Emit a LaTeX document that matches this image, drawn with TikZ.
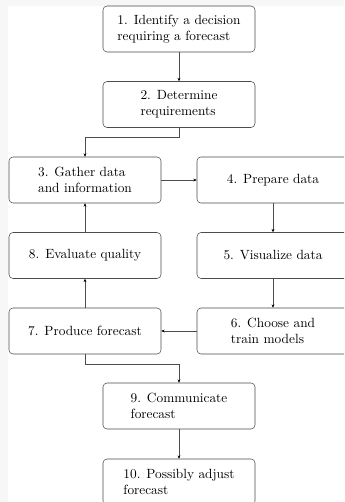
\documentclass[tikz,border=0pt]{standalone}
\usetikzlibrary{arrows.meta}
\begin{document}
\begin{tikzpicture}[x=0.75pt,y=-0.75pt,
  box/.style={draw=black!70, rounded corners=3pt, minimum width=114pt, minimum height=34.5pt, align=left, inner sep=3pt, font=\normalsize},
  arr/.style={draw=black!70, -{Stealth[length=2.5pt,width=2.2pt,color=black]}}]
\fill[black!3] (0,0) rectangle (344,502);
\fill[white] (8,6) rectangle (344,502);
\useasboundingbox (0,0) rectangle (344,502);
\clip (0,0) rectangle (344,502);
\node[box] (n1) at (179,29) {1. Identify a decision\\requiring a forecast};
\node[box] (n2) at (179,104.5) {2. Determine\\requirements};
\node[box] (n3) at (85,180) {3. Gather data\\and information};
\node[box] (n4) at (273,180) {4. Prepare data};
\node[box] (n5) at (273,255.5) {5. Visualize data};
\node[box] (n6) at (273,331) {6. Choose and\\train models};
\node[box] (n7) at (85,331) {7. Produce forecast};
\node[box] (n8) at (85,255.5) {8. Evaluate quality};
\node[box] (n9) at (179,406) {9. Communicate\\forecast};
\node[box] (n10) at (179,482) {10. Possibly adjust\\forecast};
\draw[arr] (n1) -- (n2);
\draw[arr] (n2.south) -- ++(0,10) -| (n3.north);
\draw[arr] (n3) -- (n4);
\draw[arr] (n4) -- (n5);
\draw[arr] (n5) -- (n6);
\draw[arr] (n6) -- (n7);
\draw[arr] (n7) -- (n8);
\draw[arr] (n8) -- (n3);
\draw[arr] (n7.south) -- ++(0,10) -| (n9.north);
\draw[arr] (n9) -- (n10);
\end{tikzpicture}
\end{document}
